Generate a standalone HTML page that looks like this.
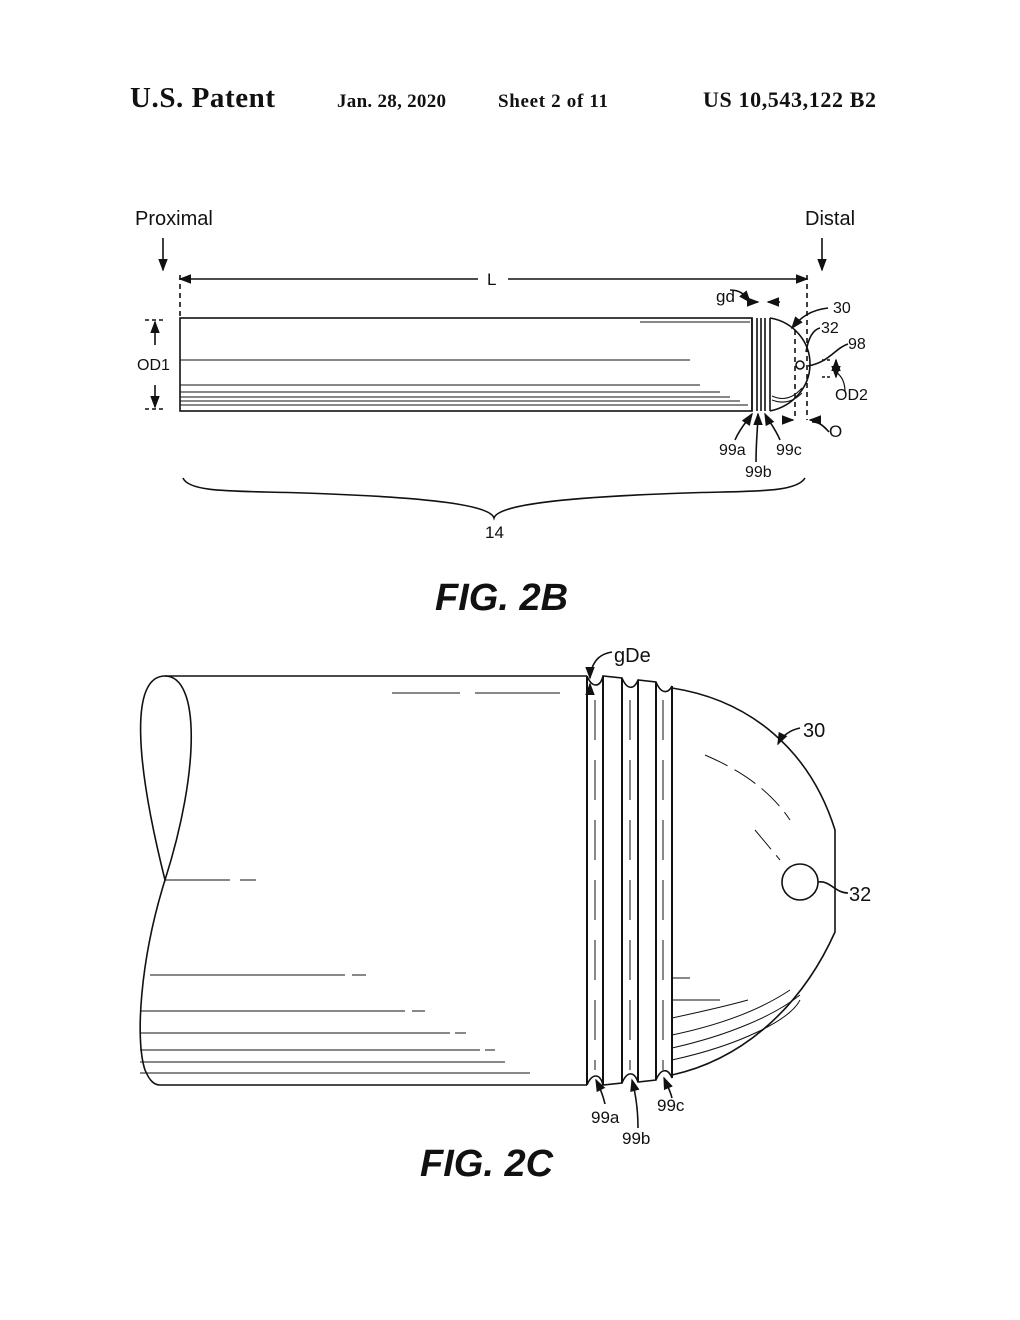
<!DOCTYPE html>
<html><head><meta charset="utf-8"><style>
body{margin:0;background:#fff}
svg{display:block}
text{font-family:"Liberation Sans",sans-serif;fill:#111}
.s{font-family:"Liberation Serif",serif;font-weight:bold}
</style></head><body>
<svg width="1020" height="1320" viewBox="0 0 1020 1320" xmlns="http://www.w3.org/2000/svg">
<defs>
<marker id="a" markerWidth="8" markerHeight="8" refX="7" refY="4" orient="auto"><path d="M0,1 L8,4 L0,7z" fill="#111"/></marker>
</defs>
<g stroke="none">
<text class="s" x="130" y="107" font-size="29" textLength="145">U.S. Patent</text>
<text class="s" x="337" y="107" font-size="19" textLength="109">Jan. 28, 2020</text>
<text class="s" x="498" y="107" font-size="19" textLength="110">Sheet 2 of 11</text>
<text class="s" x="703" y="107" font-size="22" textLength="173">US 10,543,122 B2</text>
<text x="135" y="225" font-size="20">Proximal</text>
<text x="805" y="225" font-size="20">Distal</text>
<text x="487" y="285" font-size="17">L</text>
<text x="716" y="302" font-size="17">gd</text>
<text x="833" y="313" font-size="16">30</text>
<text x="821" y="333" font-size="16">32</text>
<text x="848" y="349" font-size="16">98</text>
<text x="137" y="370" font-size="16">OD1</text>
<text x="835" y="400" font-size="16">OD2</text>
<text x="829" y="437" font-size="17">O</text>
<text x="719" y="455" font-size="16">99a</text>
<text x="776" y="455" font-size="16">99c</text>
<text x="745" y="477" font-size="16">99b</text>
<text x="485" y="538" font-size="17">14</text>
<text x="435" y="610" font-size="38" font-style="italic" font-weight="bold">FIG. 2B</text>
<text x="614" y="662" font-size="20">gDe</text>
<text x="803" y="737" font-size="20">30</text>
<text x="849" y="901" font-size="20">32</text>
<text x="591" y="1123" font-size="17">99a</text>
<text x="657" y="1111" font-size="17">99c</text>
<text x="622" y="1144" font-size="17">99b</text>
<text x="420" y="1176" font-size="38" font-style="italic" font-weight="bold">FIG. 2C</text>
</g>
<g fill="none" stroke="#111" stroke-width="1.6">
<!-- 2B -->
<path d="M163,238 V270" marker-end="url(#a)"/>
<path d="M822,238 V270" marker-end="url(#a)"/>
<path d="M508,279 H807" marker-end="url(#a)"/>
<path d="M478,279 H180" marker-end="url(#a)"/>
<path d="M180,275 V318 M807,275 V420 M795,330 V420" stroke-dasharray="5,4"/>
<rect x="180" y="318" width="572" height="93"/>
<path d="M752,318 V411 M757,318 V411 M761,318 V411 M765,318 V411 M770,318 V411"/>
<path d="M770,318 C794,322 810,342 810,364 C810,386 794,406 770,411"/>
<circle cx="800" cy="365" r="4"/>
<path d="M180,360 H690 M180,385 H700 M180,392 H720 M180,397 H730 M180,401 H740 M180,405 H748 M640,322 H750" stroke-width="1"/>
<path d="M772,396 C785,402 795,396 802,388 M772,400 C785,405 795,400 802,393" stroke-width="1"/>
<path d="M145,320 H165 M145,409 H165" stroke-dasharray="4,3"/>
<path d="M155,345 V322" marker-end="url(#a)"/>
<path d="M155,385 V407" marker-end="url(#a)"/>
<path d="M730,290 C742,290 745,296 750,302" marker-end="url(#a)"/>
<path d="M748,302 H758" marker-end="url(#a)"/>
<path d="M780,302 H768" marker-end="url(#a)"/>
<path d="M828,308 C810,310 800,318 792,328" marker-end="url(#a)"/>
<path d="M820,328 C812,330 808,340 806,352"/>
<path d="M848,344 C835,348 830,362 808,366"/>
<path d="M822,360 H832 M822,377 H832" stroke-dasharray="3,2"/>
<path d="M836,368 V360" marker-end="url(#a)"/>
<path d="M836,368 V377" marker-end="url(#a)"/>
<path d="M845,392 C845,380 840,375 836,372" stroke-width="1.2"/>
<path d="M783,420 H793" marker-end="url(#a)"/>
<path d="M820,420 H810" marker-end="url(#a)"/>
<path d="M829,432 C822,424 818,422 812,422"/>
<path d="M735,440 C740,428 748,420 752,414" marker-end="url(#a)"/>
<path d="M756,462 C756,440 758,425 758,414" marker-end="url(#a)"/>
<path d="M780,440 C775,428 768,420 765,414" marker-end="url(#a)"/>
<path d="M183,478 C190,495 250,490 330,494 C430,498 490,505 494,518 C498,505 560,498 660,494 C740,490 795,495 805,478"/>
<!-- 2C -->
<path d="M165,676 H587"/>
<path d="M165,676 C130,676 135,760 165,880 C200,770 200,676 165,676"/>
<path d="M165,880 C140,960 135,1040 145,1070 C150,1082 155,1085 160,1085 H587"/>
<path d="M587,676 V1085 M603,676 V1085 M622,678 V1083 M638,680 V1082 M656,682 V1080 M672,686 V1078" stroke-width="2"/>
<path d="M587,676 C592,688 600,688 603,676 L622,678 C627,690 634,690 638,680 L656,682 C661,694 668,694 672,686"/>
<path d="M587,1085 C592,1073 600,1073 603,1085 L622,1083 C627,1071 634,1071 638,1082 L656,1080 C661,1068 668,1068 672,1078"/>
<path d="M672,688 C750,700 810,750 835,830 V932 C800,1010 740,1060 672,1075"/>
<circle cx="800" cy="882" r="18"/>
<path d="M392,693 H460 M475,693 H560 M165,880 H230 M240,880 H256 M150,975 H345 M352,975 H366 M140,1011 H405 M412,1011 H425 M140,1033 H450 M455,1033 H466 M140,1050 H480 M485,1050 H495 M140,1062 H505 M140,1073 H530" stroke-width="1.1"/>
<path d="M705,755 C740,770 770,790 790,820 M755,830 L780,860" stroke-dasharray="25,8" stroke-width="1"/>
<path d="M672,978 H690 M672,1000 H720 M672,1018 C700,1012 730,1005 748,1000 M672,1035 C720,1025 760,1010 790,990 M672,1048 C730,1035 775,1015 800,995 M672,1060 C740,1045 790,1020 800,1000" stroke-width="1"/>
<path d="M595,700 V1070 M630,700 V1070 M663,700 V1070" stroke-dasharray="40,20" stroke-width="1"/>
<path d="M612,652 C600,654 595,660 592,668"/>
<path d="M590,668 V678" marker-end="url(#a)"/>
<path d="M590,694 V684" marker-end="url(#a)"/>
<path d="M800,728 C790,730 782,736 778,744" marker-end="url(#a)"/>
<path d="M848,893 C835,893 830,880 818,882"/>
<path d="M605,1104 C603,1095 600,1088 596,1080" marker-end="url(#a)"/>
<path d="M638,1128 C638,1110 636,1095 632,1080" marker-end="url(#a)"/>
<path d="M672,1098 C670,1090 667,1085 664,1078" marker-end="url(#a)"/>
</g>
</svg>
</body></html>
